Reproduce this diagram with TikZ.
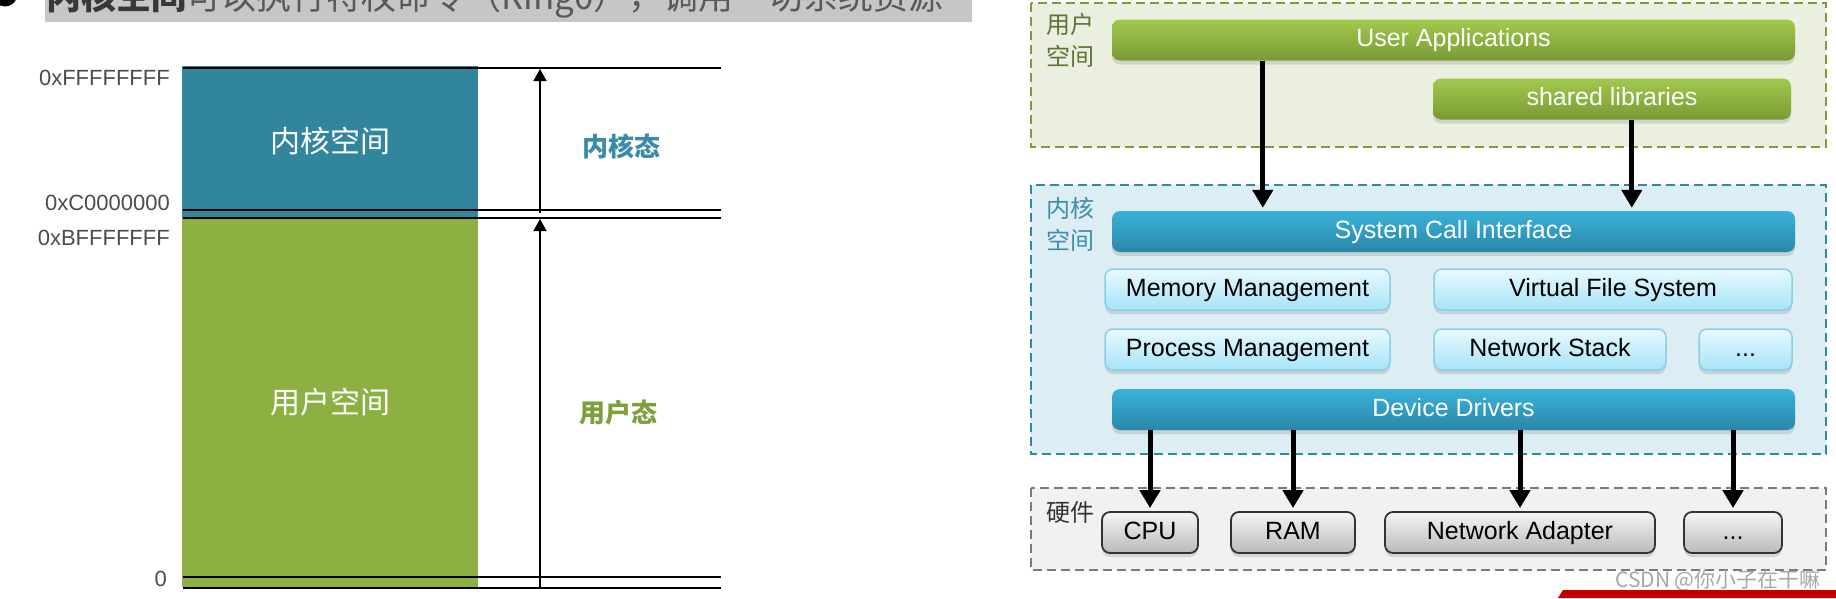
\documentclass[tikz,border=0pt]{standalone}
\usepackage{fontspec}
\setmainfont{Liberation Sans}
\newfontfamily\cjk{Noto Sans CJK SC}
\usetikzlibrary{arrows.meta,shadows}
\definecolor{kblue}{HTML}{31859C}
\definecolor{ugreen}{HTML}{8DB043}
\definecolor{kstate}{HTML}{3A8CA6}
\definecolor{ustate}{HTML}{7F9F3D}
\definecolor{kfill}{HTML}{DCEDF3}
\definecolor{kline}{HTML}{2E8AA6}
\definecolor{ufill}{HTML}{EBEFE0}
\definecolor{uline}{HTML}{7D9B3C}
\definecolor{hfill}{HTML}{F1F1F1}
\definecolor{hline}{HTML}{7A7A7A}
\definecolor{utext}{HTML}{5F7233}
\definecolor{ktext}{HTML}{3D8FA9}
\definecolor{headgray}{HTML}{C6C6C6}
\definecolor{gtop}{HTML}{A2C94D}
\definecolor{gbot}{HTML}{799A35}
\definecolor{btop}{HTML}{3AB1D8}
\definecolor{bbot}{HTML}{2A87AA}
\definecolor{mtop}{HTML}{E8F9FF}
\definecolor{mbot}{HTML}{A6E4F7}
\definecolor{mline}{HTML}{8ACFE6}
\begin{document}
\begin{tikzpicture}[x=1pt, y=-1pt,
  hexlbl/.style={anchor=east, inner sep=0pt, text=black!70, font=\fontsize{22}{22}\selectfont},
  spacelbl/.style={text=white, font=\cjk\fontsize{30}{30}\selectfont},
  statelbl/.style={font=\cjk\bfseries\fontsize{26}{26}\selectfont},
  memline/.style={line width=2.6pt},
  thinarrow/.style={line width=1.4pt, -{Triangle[width=13pt,length=12pt]}},
  area/.style={line width=1.8pt, dash pattern=on 9pt off 5pt},
  arealbl/.style={align=center, inner sep=0pt, font=\cjk\fontsize{24}{32}\selectfont},
  bar/.style={rounded corners=8pt, minimum height=41pt, inner sep=0pt, text=white,
    text height=18pt, text depth=5pt, font=\fontsize{25}{25}\selectfont,
    drop shadow={shadow xshift=0pt, shadow yshift=-4pt, opacity=0.25}},
  greenbar/.style={bar, top color=gtop, bottom color=gbot},
  bluebar/.style={bar, top color=btop, bottom color=bbot},
  module/.style={bar, text=black, draw=mline, line width=1.5pt,
    top color=mtop, bottom color=mbot},
  hwbox/.style={bar, text=black, draw=black!80, line width=1.8pt,
    top color=black!4, bottom color=black!27},
  sysarrow/.style={line width=5pt, shorten >=3pt, -{Triangle[width=20pt,length=18pt]}}]
  \useasboundingbox (0,0) rectangle (1836,598);
  \clip (0,0) rectangle (1836,598);

  \fill (5,-6) circle (12.5pt);
  \fill[headgray] (45,-10) rectangle (972,22);
  \node[anchor=base west, inner sep=0pt, text=black!65, font=\cjk\fontsize{35}{35}\selectfont] (title) at (46,9)
    {\textcolor{black!78}{\bfseries 内核空间}可以执行特权命令（Ring0），调用一切系统资源};

  \fill[kblue] (182,66) rectangle (478,217);
  \fill[ugreen] (182,217) rectangle (478,587);
  \foreach \y in {68,210,218,577,588}
    \draw[memline] (183,\y) -- (721,\y);
  \draw[thinarrow] (540,213) -- (540,69);
  \draw[thinarrow] (540,588) -- (540,219);
  \node[hexlbl] (top) at (170,78) {0xFFFFFFFF};
  \node[hexlbl] (kbase) at (170,203) {0xC0000000};
  \node[hexlbl] (uend) at (170,238) {0xBFFFFFFF};
  \node[hexlbl] (zero) at (167,579) {0};
  \node[spacelbl] (kspace) at (330,141) {内核空间};
  \node[spacelbl] (uspace) at (330,402) {用户空间};
  \node[statelbl, text=kstate] (kstat) at (621,146) {内核态};
  \node[statelbl, text=ustate] (ustat) at (618,413) {用户态};

  \draw[area, draw=uline, fill=ufill] (1031,3) rectangle (1826,147);
  \draw[area, draw=kline, fill=kfill] (1031,185) rectangle (1826,454);
  \draw[area, draw=hline, fill=hfill] (1031,488) rectangle (1826,570);
  \node[arealbl, text=utext] (ulbl) at (1070,40) {用户\\空间};
  \node[arealbl, text=ktext] (klbl) at (1070,224) {内核\\空间};
  \node[arealbl, text=black!80] (hlbl) at (1070,512) {硬件};

  \node[greenbar, minimum width=683pt] (ua) at (1453.5,40) {User Applications};
  \node[greenbar, minimum width=358pt] (shl) at (1612,99) {shared libraries};
  \node[bluebar, minimum width=683pt] (sci) at (1453.5,231.5) {System Call Interface};
  \node[module, minimum width=285pt] (mem) at (1247.5,289.5) {Memory Management};
  \node[module, minimum width=358pt] (vfs) at (1613,289.5) {Virtual File System};
  \node[module, minimum width=285pt] (proc) at (1247.5,349.5) {Process Management};
  \node[module, minimum width=232pt] (net) at (1550,349.5) {Network Stack};
  \node[module, minimum width=93pt] (kdots) at (1745.5,349.5) {...};
  \node[bluebar, minimum width=683pt] (dd) at (1453.5,409.5) {Device Drivers};
  \node[hwbox, minimum width=96pt] (cpu) at (1150,532.5) {CPU};
  \node[hwbox, minimum width=124pt] (ram) at (1293,532.5) {RAM};
  \node[hwbox, minimum width=270pt] (nic) at (1520,532.5) {Network Adapter};
  \node[hwbox, minimum width=98pt] (hdots) at (1733,532.5) {...};

  \coordinate (uaout) at ([xshift=151pt]ua.south west);
  \coordinate (shlout) at ([xshift=199pt]shl.south west);
  \draw[sysarrow] (uaout) -- (uaout |- sci.north);
  \draw[sysarrow] (shlout) -- (shlout |- sci.north);
  \foreach \hw in {cpu,ram,nic,hdots}
    \draw[sysarrow] (dd.south -| \hw.north) -- (\hw.north);

  \node[anchor=east, inner sep=0pt, text=black!35, font=\cjk\fontsize{21}{21}\selectfont] (mark) at (1821,580) {CSDN @你小子在干嘛};
  \fill[red!75!black] (1563,590) -- (1836,590) -- (1836,598) -- (1558,598) -- cycle;
\end{tikzpicture}
\end{document}
